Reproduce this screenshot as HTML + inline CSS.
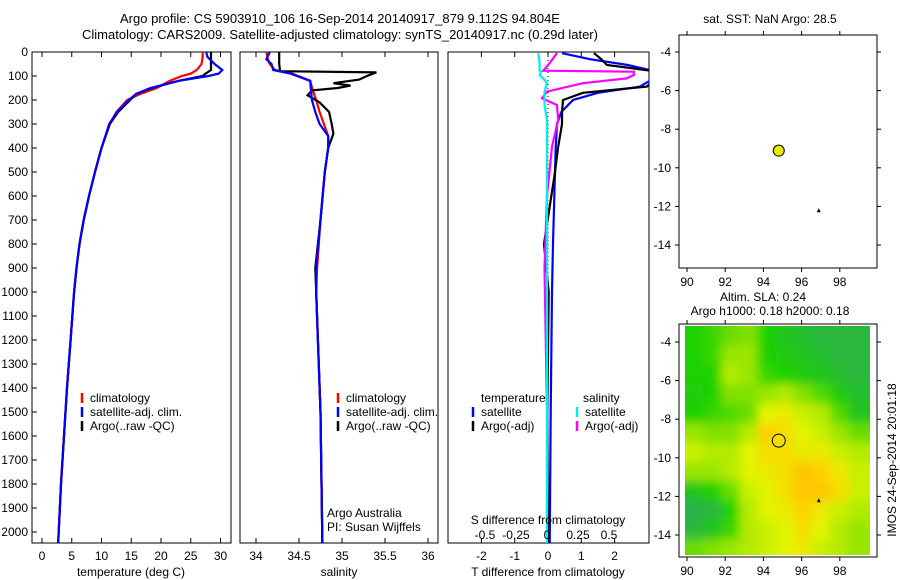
<!DOCTYPE html>
<html><head><meta charset="utf-8"><style>
body{margin:0;background:#fff;}
svg{display:block;font-family:"Liberation Sans",sans-serif;font-size:12px;}
</style></head><body>
<svg id="fig" width="900" height="580" viewBox="0 0 900 580">
<defs>
<clipPath id="c1"><rect x="32" y="52" width="199" height="491"/></clipPath>
<clipPath id="c2"><rect x="240" y="52" width="198" height="491"/></clipPath>
<clipPath id="c3"><rect x="448" y="52" width="201" height="491"/></clipPath>
<clipPath id="chm"><rect x="685" y="326" width="185" height="229"/></clipPath>
<filter id="blur" x="-5%" y="-5%" width="110%" height="110%"><feGaussianBlur stdDeviation="5" edgeMode="duplicate"/></filter>
</defs>
<text x="340" y="23" text-anchor="middle" font-size="13">Argo profile: CS 5903910_106 16-Sep-2014 20140917_879 9.112S 94.804E</text>
<text x="340" y="39" text-anchor="middle" font-size="13">Climatology: CARS2009. Satellite-adjusted climatology: synTS_20140917.nc (0.29d later)</text>
<g id="g1"></g>
<g id="g2"></g>
<g id="g3"></g>
<g id="g4"></g>
<g id="g5"></g>
</svg>
<script>
// ---------- data ----------
const tDepth=[0,20,50,75,90,100,120,150,175,200,250,300,400,500,600,700,800,900,1000,1200,1400,1600,1800,2000,2050];
const tClim=[27.0,27.0,26.8,26,25,23.5,21.5,19.3,16.5,14.3,12.5,11.4,10,8.9,7.9,7,6.3,5.8,5.4,4.8,4.2,3.7,3.2,2.8,2.7];
const tArgo=[28.4,28.4,28.4,28.4,27.5,27,23,18.5,15.8,14.8,12.8,11.4,10,8.9,7.9,7,6.3,5.8,5.4,4.8,4.2,3.7,3.2,2.8,2.7];
const tSat=[27.6,27.8,29,30.3,29.7,28,23,18.2,15.8,14.6,12.6,11.3,10,8.9,7.9,7,6.3,5.8,5.4,4.8,4.2,3.7,3.2,2.8,2.7];
const sDepth=[0,30,50,75,90,120,160,200,250,300,350,400,500,700,900,1000,1200,1500,2000,2050];
const sClim=[34.12,34.14,34.16,34.22,34.42,34.63,34.66,34.7,34.74,34.79,34.84,34.84,34.8,34.75,34.71,34.7,34.72,34.75,34.77,34.77];
const sSat=[34.16,34.12,34.18,34.2,34.4,34.63,34.64,34.65,34.69,34.74,34.84,34.84,34.8,34.75,34.7,34.7,34.72,34.75,34.77,34.77];
const aDepth=[0,50,80,85,100,115,130,140,150,160,180,210,250,300,340,400,500,700,900,1000,1200,1500,2000,2050];
const sArgo=[34.27,34.27,34.28,35.4,35.29,35.2,34.9,35.1,34.95,34.65,34.6,34.74,34.85,34.88,34.9,34.84,34.8,34.75,34.69,34.7,34.72,34.75,34.77,34.77];
const dDepth=[5,30,54,80,100,144,170,200,250,300,400,500,800,1000,1500,2050];
const dTSat=[0.42,1.26,2.4,3.2,3.3,2.76,1.5,0.75,0.4,0.27,0.23,0.21,0.15,0.12,0.08,0.05];
const dTArgo=[1.38,1.6,1.77,3.2,3.3,2.97,1.05,0.45,0.42,0.42,0.3,0.21,-0.12,0.02,-0.02,0.0];
const sdDepth=[5,47,78,82,96,110,130,165,193,221,283,394,600,900,1500,2050];
const dSArgo=[0.08,0.02,-0.03,0.7,0.7,0.64,0.29,0.0,-0.04,0.08,0.09,0.04,0.0,-0.02,0.0,0.0];
const dSSat=[-0.07,-0.06,-0.06,-0.05,-0.06,-0.03,0.0,-0.02,-0.02,-0.02,0.0,0.0,0.0,0.0,0.0,0.0];
const depthTicks=[0,100,200,300,400,500,600,700,800,900,1000,1100,1200,1300,1400,1500,1600,1700,1800,1900,2000];
const tTicks=[0,5,10,15,20,25,30];
const sTicks=[34,34.5,35,35.5,36];
const dTTicks=[-2,-1,0,1,2];
const dSTickLabels=["-0.5","-0.25","0","0.25","0.5"];
const dSTicks=[-0.5,-0.25,0,0.25,0.5];
const lonTicks=[90,92,94,96,98];
const latTicks=[-4,-6,-8,-10,-12,-14];
const argoPos=[94.804,-9.112];
const floatPos=[96.9,-12.2];
const slaLon=[90,90.95,91.9,92.85,93.8,94.75,95.7,96.65,97.6,98.55];
const slaLat=[-3.2,-4.2,-5.2,-6.2,-7.2,-8.2,-9.2,-10.2,-11.2,-12.2,-13.2,-14.2];
const slaGrid=[
[0.3,0.35,0.45,0.5,0.3,0.2,0.15,0.1,0.1,0.1],
[0.3,0.35,0.55,0.55,0.3,0.25,0.2,0.15,0.1,0.1],
[0.3,0.3,0.6,0.55,0.35,0.3,0.25,0.2,0.15,0.1],
[0.25,0.3,0.5,0.5,0.55,0.6,0.5,0.4,0.25,0.15],
[0.3,0.35,0.4,0.45,0.7,0.75,0.65,0.6,0.4,0.2],
[0.55,0.5,0.5,0.6,0.85,0.8,0.7,0.65,0.55,0.45],
[0.65,0.6,0.6,0.7,0.8,0.8,0.75,0.75,0.65,0.6],
[0.55,0.55,0.6,0.7,0.75,0.8,0.9,0.85,0.75,0.65],
[0.2,0.3,0.45,0.65,0.7,0.8,0.9,0.9,0.8,0.65],
[0.05,0.1,0.3,0.6,0.7,0.75,0.85,0.75,0.65,0.6],
[0.1,0.2,0.35,0.6,0.65,0.7,0.8,0.7,0.6,0.55],
[0.45,0.5,0.55,0.6,0.65,0.7,0.75,0.65,0.6,0.55]];
// ---------- helpers ----------
const NS="http://www.w3.org/2000/svg";
function mk(parent,tag,attrs,txt){const e=document.createElementNS(NS,tag);for(const k in attrs)e.setAttribute(k,attrs[k]);if(txt!==undefined)e.textContent=txt;parent.appendChild(e);return e;}
const Y=d=>52+d*0.24;
const xT=v=>42+v*5.95;
const xS=v=>256+(v-34)*86;
const xDT=v=>548+v*33.3;
const xDS=v=>547+v*124;
const lonX=v=>687+(v-90)*19.1;
const latY1=v=>52+(-4-v)*19.3;
const latY2=v=>342+(-4-v)*19.3;
function line(g,xs,ys,fx,color,clip,name,w){
  const p=xs.map((v,i)=>fx(v).toFixed(1)+","+Y(ys[i]).toFixed(1)).join(" ");
  const e=mk(g,"polyline",{points:p,fill:"none",stroke:color,"stroke-width":w||2.2,"clip-path":"url(#"+clip+")"});
  
  
}
function frame(g,x,y,w,h,name){const e=mk(g,"rect",{x:x,y:y,width:w,height:h,fill:"none",stroke:"#000","stroke-width":1});
  
  }
function xaxis(g,ticks,labels,fx,top,bot,labelY){
  ticks.forEach((t,i)=>{const x=fx(t);
    mk(g,"line",{x1:x,x2:x,y1:bot,y2:bot-5,stroke:"#000"});
    mk(g,"line",{x1:x,x2:x,y1:top,y2:top+5,stroke:"#000"});
    const tx=mk(g,"text",{x:x,y:labelY,"text-anchor":"middle"},labels[i]);
    
    });
}
function legend(g,x,y,entries){entries.forEach((en,i)=>{
  mk(g,"line",{x1:x,x2:x,y1:y+i*14-9,y2:y+i*14+1,stroke:en[1],"stroke-width":2.5});
  const t=mk(g,"text",{x:x+8,y:y+i*14},en[0]);
  
  });}
// ---------- panel 1 ----------
const g1=document.getElementById("g1");
frame(g1,32,52,199,491,"temperature-plot-frame");
depthTicks.forEach(d=>{mk(g1,"line",{x1:32,x2:37,y1:Y(d),y2:Y(d),stroke:"#000"});
  const t=mk(g1,"text",{x:28,y:Y(d)+4,"text-anchor":"end"},String(d));
  
  });
xaxis(g1,tTicks,tTicks.map(String),xT,52,543,560);
line(g1,tClim,tDepth,xT,"#f00","c1","temp-climatology-line");
line(g1,tArgo,tDepth,xT,"#000","c1","temp-argo-line");
line(g1,tSat,tDepth,xT,"#00f","c1","temp-satellite-line");
legend(g1,82,402,[["climatology","#f00"],["satellite-adj. clim.","#00f"],["Argo(..raw -QC)","#000"]]);
mk(g1,"text",{x:131,y:576,"text-anchor":"middle"},"temperature (deg C)");
// ---------- panel 2 ----------
const g2=document.getElementById("g2");
frame(g2,240,52,198,491,"salinity-plot-frame");
xaxis(g2,sTicks,sTicks.map(String),xS,52,543,560);
line(g2,sClim,sDepth,xS,"#f00","c2","sal-climatology-line");
line(g2,sArgo,aDepth,xS,"#000","c2","sal-argo-line");
line(g2,sSat,sDepth,xS,"#00f","c2","sal-satellite-line");
legend(g2,338,402,[["climatology","#f00"],["satellite-adj. clim.","#00f"],["Argo(..raw -QC)","#000"]]);
mk(g2,"text",{x:327,y:517},"Argo Australia");
mk(g2,"text",{x:327,y:531},"PI: Susan Wijffels");
mk(g2,"text",{x:339,y:576,"text-anchor":"middle"},"salinity");
// ---------- panel 3 ----------
const g3=document.getElementById("g3");
frame(g3,448,52,201,491,"difference-plot-frame");
xaxis(g3,dTTicks,dTTicks.map(String),xDT,52,543,560);
mk(g3,"line",{x1:548,x2:548,y1:52,y2:543,stroke:"#000","stroke-dasharray":"1,3"});
line(g3,dTSat,dDepth,xDT,"#00f","c3","tdiff-satellite-line");
line(g3,dTArgo,dDepth,xDT,"#000","c3","tdiff-argo-line");
line(g3,dSArgo,sdDepth,xDS,"#f0f","c3","sdiff-argo-line");
line(g3,dSSat,sdDepth,xDS,"#0ee","c3","sdiff-satellite-line");
mk(g3,"text",{x:481,y:402},"temperature");
mk(g3,"text",{x:583,y:402},"salinity");
legend(g3,473,416,[["satellite","#00f"],["Argo(-adj)","#000"]]);
legend(g3,577,416,[["satellite","#0ee"],["Argo(-adj)","#f0f"]]);
mk(g3,"text",{x:548,y:524,"text-anchor":"middle"},"S difference from climatology");
dSTicks.forEach((t,i)=>{const tx=mk(g3,"text",{x:xDS(t),y:539,"text-anchor":"middle"},dSTickLabels[i]);
  
  });
mk(g3,"text",{x:548,y:576,"text-anchor":"middle"},"T difference from climatology");
// ---------- map panels ----------
function mapAxes(g,top,bot,latY){
  lonTicks.forEach(t=>{const x=lonX(t);
    mk(g,"line",{x1:x,x2:x,y1:bot,y2:bot+4,stroke:"#000"});
    mk(g,"line",{x1:x,x2:x,y1:top,y2:top-4,stroke:"#000"});
    const tx=mk(g,"text",{x:x,y:bot+18,"text-anchor":"middle"},String(t));
    
    });
  latTicks.forEach(t=>{const y=latY(t);
    mk(g,"line",{x1:679,x2:675,y1:y,y2:y,stroke:"#000"});
    mk(g,"line",{x1:877,x2:881,y1:y,y2:y,stroke:"#000"});
    const tx=mk(g,"text",{x:671,y:y+4,"text-anchor":"end"},String(t));
    
    });
}
const g4=document.getElementById("g4");
mk(g4,"text",{x:770,y:23,"text-anchor":"middle"},"sat. SST: NaN Argo: 28.5");
frame(g4,679,35,198,233,"sst-map-frame");
mapAxes(g4,35,268,latY1);
mk(g4,"circle",{cx:lonX(argoPos[0]),cy:latY1(argoPos[1]),r:5.5,fill:"#e8e800",stroke:"#000"});
mk(g4,"polygon",{points:`${lonX(floatPos[0])-2},${latY1(floatPos[1])+2} ${lonX(floatPos[0])+2},${latY1(floatPos[1])+2} ${lonX(floatPos[0])},${latY1(floatPos[1])-2}`,fill:"#000"});
const g5=document.getElementById("g5");
mk(g5,"text",{x:763,y:301,"text-anchor":"middle"},"Altim. SLA: 0.24");
mk(g5,"text",{x:770,y:315,"text-anchor":"middle"},"Argo h1000: 0.18 h2000: 0.18");
function col(v){const stops=[[0,[46,170,90]],[0.3,[30,210,0]],[0.5,[130,225,0]],[0.7,[225,245,0]],[0.85,[255,210,0]],[1,[255,175,0]]];
  for(let i=1;i<stops.length;i++){if(v<=stops[i][0]){const a=stops[i-1],b=stops[i],f=(v-a[0])/(b[0]-a[0]);
    return "rgb("+a[1].map((c,k)=>Math.round(c+(b[1][k]-c)*f)).join(",")+")";}}return "rgb(255,175,0)";}
const hmClip=mk(g5,"g",{"clip-path":"url(#chm)"});
const hm=mk(hmClip,"g",{filter:"url(#blur)"});


slaLat.forEach((la,r)=>slaLon.forEach((lo,c)=>{
  const x0=lonX(lo)-2,y0=latY2(la);
  const x1=lonX(lo+0.95)-2,y1=latY2(la-1);
  const ex0=c===0?x0-15:x0, ey0=r===0?y0-15:y0;
  const ex1=c===slaLon.length-1?x1+15:x1, ey1=r===slaLat.length-1?y1+15:y1;
  const cell=mk(hm,"rect",{x:ex0,y:ey0,width:ex1-ex0+0.5,height:ey1-ey0+0.5,fill:col(slaGrid[r][c])});
  
  
}));
frame(g5,679,324,198,233,"sla-map-frame");
mapAxes(g5,324,557,latY2);
mk(g5,"circle",{cx:lonX(argoPos[0]),cy:latY2(argoPos[1]),r:6.5,fill:"none",stroke:"#000"});
mk(g5,"polygon",{points:`${lonX(floatPos[0])-2},${latY2(floatPos[1])+2} ${lonX(floatPos[0])+2},${latY2(floatPos[1])+2} ${lonX(floatPos[0])},${latY2(floatPos[1])-2}`,fill:"#000"});
mk(g5,"text",{x:896,y:460,"text-anchor":"middle",transform:"rotate(-90 896 460)"},"IMOS 24-Sep-2014 20:01:18");
</script>
</body></html>
